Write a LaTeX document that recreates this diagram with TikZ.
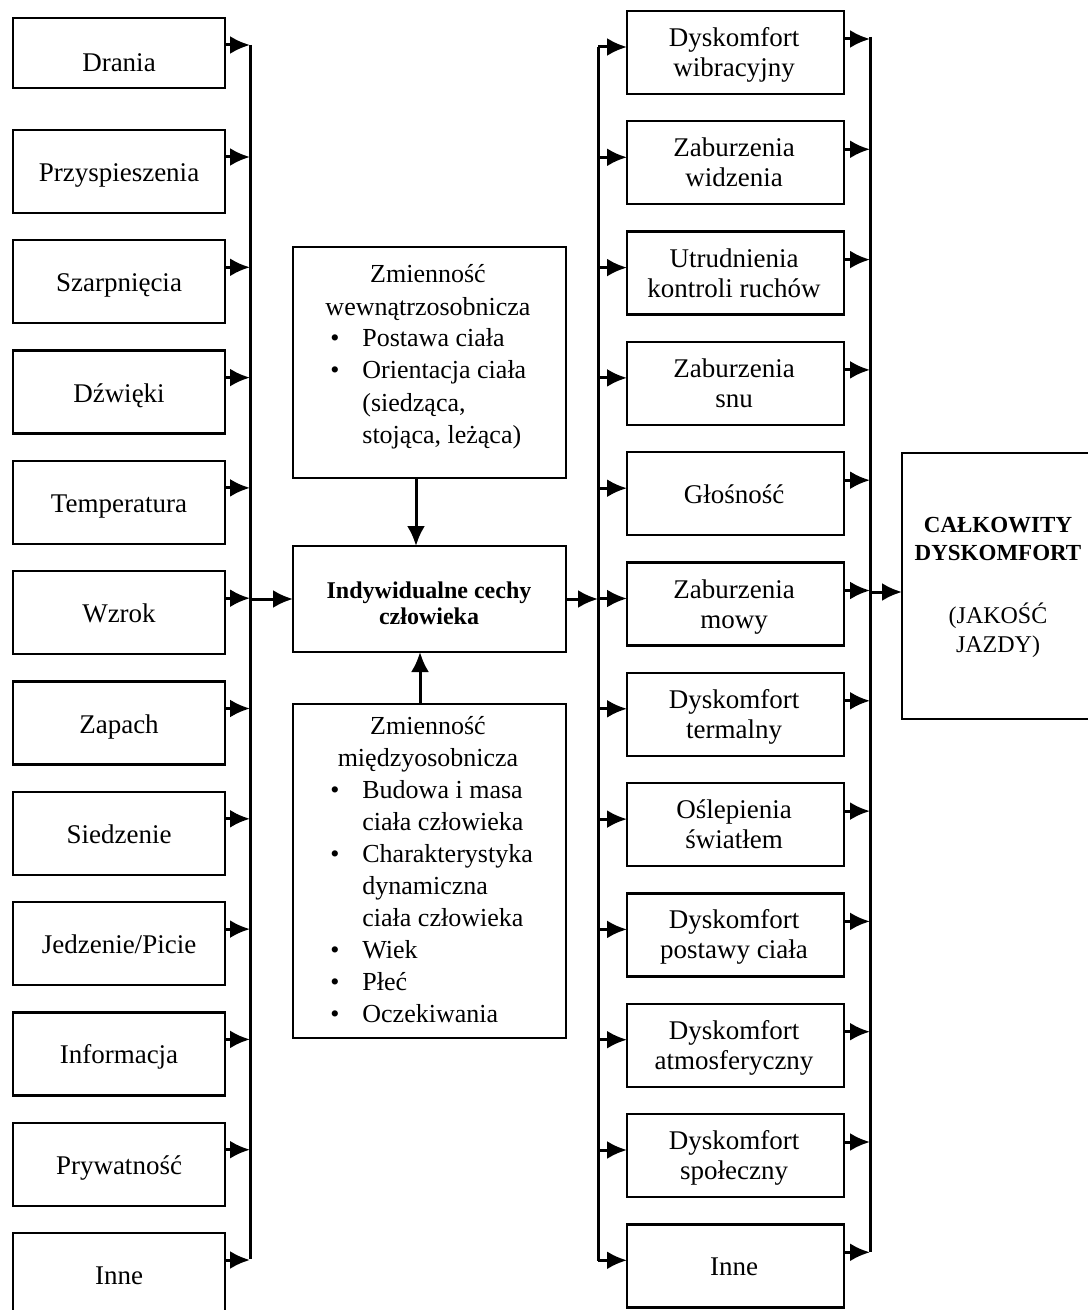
\documentclass[tikz,border=0pt]{standalone}
\usepackage{fontspec}
\setmainfont{Liberation Serif}
\usetikzlibrary{arrows.meta}
\begin{document}
\begin{tikzpicture}[x=0.5pt,y=-0.5pt]
\tikzset{
 box/.style={draw, line width=1.2pt, inner sep=0pt, outer sep=0pt},
 lbox/.style={box, minimum width=106pt, minimum height=41.5pt},
 rbox/.style={box, minimum width=108.5pt, minimum height=41.5pt},
 txt/.style={inner sep=0pt, font=\fontsize{13.5}{16}\selectfont, anchor=base},
 mtxt/.style={inner sep=0pt, font=\fontsize{13}{16}\selectfont, anchor=base},
 mtxtl/.style={mtxt, anchor=base west},
 btxt/.style={inner sep=0pt, font=\fontsize{12}{14}\selectfont\bfseries, anchor=base},
 ftxt/.style={inner sep=0pt, font=\fontsize{11.5}{14}\selectfont\bfseries, anchor=base},
 conn/.style={line width=1.5pt},
 arr/.style={line width=1.5pt, -{Latex[length=10pt,width=9pt]}},
}
\fill[white] (0,0) rectangle (1087,1310);
\useasboundingbox (0,0) rectangle (1087,1310);

% ---------- left column ----------
\node[box, minimum width=106pt, minimum height=35pt] (L1) at (119,53) {};
\node[txt] (Lt1) at (119,72) {Drania};
\draw[arr] ([yshift=4pt]L1.east) -- ([yshift=4pt,xshift=12.5pt]L1.east);
\foreach \i/\tp/\lab in {2/130/Przyspieszenia,3/240.3/Szarpnięcia,4/350.6/Dźwięki,5/460.9/Temperatura,6/571.2/Wzrok,7/681.5/Zapach,8/791.8/Siedzenie,10/1012.4/Informacja,11/1122.7/Prywatność,12/1233/Inne}{
  \node[lbox] (L\i) at (119,\tp+41.5) {};
  \node[txt] (Lt\i) at (119,\tp+51.5) {\lab};
  \draw[arr] ([yshift=7.25pt]L\i.east) -- ([yshift=7.25pt,xshift=12.5pt]L\i.east);
}
\node[lbox] (L9) at (119,902.1+41.5) {};
\node[txt] (Lt9) at (119,902.1+51.5) {Jedzenie/Picie};
\draw[arr] ([yshift=7.25pt]L9.east) -- ([yshift=7.25pt,xshift=12.5pt]L9.east);

\coordinate (lbA) at (250,45);
\coordinate (lbB) at (250,1259);
\coordinate (lbM) at (250,599);
\draw[conn] (lbA) -- (lbB);

% ---------- middle ----------
\node[box, minimum width=136.5pt, minimum height=115.5pt] (U) at (429.5,362.5) {};
\node[box, minimum width=136.5pt, minimum height=53pt] (C) at (429.5,599) {};
\node[box, minimum width=136.5pt, minimum height=167pt] (D) at (429.5,871) {};

\node[mtxt] (u1) at (428,283) {Zmienność};
\node[mtxt] (u2) at (428,315) {wewnątrzosobnicza};
\node[mtxt] (ub1) at (335,347) {\textbullet};
\node[mtxtl] (u3) at (362,347) {Postawa ciała};
\node[mtxt] (ub2) at (335,379) {\textbullet};
\node[mtxtl] (u4) at (362,379) {Orientacja ciała};
\node[mtxtl] (u5) at (362,411) {(siedząca,};
\node[mtxtl] (u6) at (362,443) {stojąca, leżąca)};

\node[btxt] (c1) at (429,598) {Indywidualne cechy};
\node[btxt] (c2) at (429,624) {człowieka};

\node[mtxt] (d1) at (428,734) {Zmienność};
\node[mtxt] (d2) at (428,766) {międzyosobnicza};
\node[mtxt] (db1) at (335,798) {\textbullet};
\node[mtxtl] (d3) at (362,798) {Budowa i masa};
\node[mtxtl] (d4) at (362,830) {ciała człowieka};
\node[mtxt] (db2) at (335,862) {\textbullet};
\node[mtxtl] (d5) at (362,862) {Charakterystyka};
\node[mtxtl] (d6) at (362,894) {dynamiczna};
\node[mtxtl] (d7) at (362,926) {ciała człowieka};
\node[mtxt] (db3) at (335,958) {\textbullet};
\node[mtxtl] (d8) at (362,958) {Wiek};
\node[mtxt] (db4) at (335,990) {\textbullet};
\node[mtxtl] (d9) at (362,990) {Płeć};
\node[mtxt] (db5) at (335,1022) {\textbullet};
\node[mtxtl] (d10) at (362,1022) {Oczekiwania};

\draw[arr] ([xshift=-6.75pt]U.south) -- ([xshift=-6.75pt]C.north);
\draw[arr] ([xshift=-4.75pt]D.north) -- ([xshift=-4.75pt]C.south);
\draw[arr] (lbM) -- (C.west);

% ---------- right column ----------
\coordinate (rlA) at (598,47);
\coordinate (rlB) at (598,1261);
\coordinate (rlM) at (598,599);
\coordinate (rrA) at (870,37);
\coordinate (rrB) at (870,1252);
\coordinate (rrM) at (870,592);
\draw[conn] (rlA) -- (rlB);
\draw[conn] (rrA) -- (rrB);
\draw[arr] (C.east) -- (rlM);

\foreach \i/\tp/\la/\lb in {1/11/Dyskomfort/wibracyjny,2/121.3/Zaburzenia/widzenia,3/231.6/Utrudnienia/kontroli ruchów,4/341.9/Zaburzenia/snu,6/562.5/Zaburzenia/mowy,7/672.8/Dyskomfort/termalny,8/783.1/Oślepienia/światłem,9/893.4/Dyskomfort/postawy ciała,10/1003.7/Dyskomfort/atmosferyczny,11/1114/Dyskomfort/społeczny}{
  \node[rbox] (R\i) at (735.5,\tp+41.5) {};
  \node[txt] (Ra\i) at (734,\tp+35.5) {\la};
  \node[txt] (Rb\i) at (734,\tp+65.5) {\lb};
}
\foreach \i/\tp/\la in {5/452.2/Głośność,12/1224.3/Inne}{
  \node[rbox] (R\i) at (735.5,\tp+41.5) {};
  \node[txt] (Ra\i) at (734,\tp+51.5) {\la};
}
\foreach \i in {1,...,12}{
  \draw[arr] ([yshift=2.75pt,xshift=-14.5pt]R\i.west) -- ([yshift=2.75pt]R\i.west);
  \draw[arr] ([yshift=6.75pt]R\i.east) -- ([yshift=6.75pt,xshift=13pt]R\i.east);
}

% ---------- final ----------
\node[box, minimum width=96.5pt, minimum height=133pt] (F) at (998.5,586) {};
\node[ftxt] (f1) at (998,532) {CAŁKOWITY};
\node[ftxt] (f2) at (998,560) {DYSKOMFORT};
\node[inner sep=0pt, font=\fontsize{12}{14}\selectfont, anchor=base] (f3) at (998,623) {(JAKOŚĆ};
\node[inner sep=0pt, font=\fontsize{12}{14}\selectfont, anchor=base] (f4) at (998,652) {JAZDY)};
\draw[arr] (rrM) -- (rrM -| F.west);
\end{tikzpicture}
\end{document}
